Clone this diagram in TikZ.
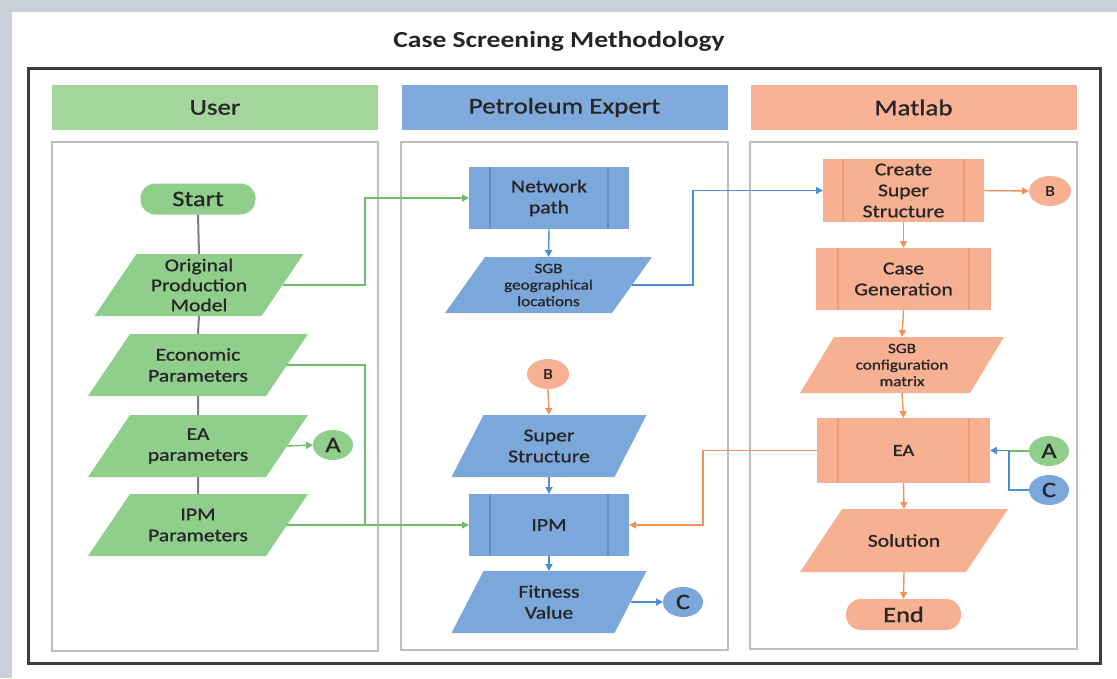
\documentclass[tikz,border=0pt]{standalone}
\usepackage{fontspec}
\setmainfont{Carlito}[FakeStretch=1.2, UprightFeatures={FakeBold=1}]
\usetikzlibrary{arrows.meta,calc,shapes.geometric,backgrounds}
\definecolor{bgband}{HTML}{C8D0D9}
\definecolor{gfill}{HTML}{8FCF8B}
\definecolor{ghead}{HTML}{A3D59C}
\definecolor{bfill}{HTML}{7BA7DA}
\definecolor{bhead}{HTML}{80AADC}
\definecolor{ofill}{HTML}{F7B092}
\definecolor{ohead}{HTML}{F9B394}
\definecolor{gline}{HTML}{6DC066}
\definecolor{bline}{HTML}{4B8FD6}
\definecolor{oline}{HTML}{F2925C}
\definecolor{txt}{HTML}{262626}
\definecolor{lanegray}{HTML}{BDBDBD}
\definecolor{outerc}{HTML}{3C3C3C}
\definecolor{grayline}{HTML}{7F7F7F}
\definecolor{binner}{HTML}{5C8FCC}
\definecolor{oinner}{HTML}{EE9B78}
\tikzset{
  txtbase/.style={align=center, text=txt, inner sep=0pt, outer sep=0pt},
  nfont/.style={font=\fontsize{18}{21}\selectfont},
  sfont/.style={font=\fontsize{14.3}{16.5}\selectfont},
  header/.style={txtbase, font=\fontsize{22.5}{26}\selectfont, minimum width=326pt, minimum height=45pt},
  procbox/.style={txtbase, nfont, rectangle, minimum height=62pt},
  paranode/.style={txtbase, nfont, rectangle, minimum height=62pt},
  termnode/.style={txtbase, font=\fontsize{22}{26}\selectfont, rectangle, rounded corners=15pt, minimum width=115pt, minimum height=31pt},
  conn/.style={txtbase, ellipse, minimum width=40pt, minimum height=30pt, font=\fontsize{22}{24}\selectfont},
  connsmall/.style={conn, minimum width=42pt, font=\fontsize{15}{17}\selectfont},
  lanebox/.style={draw=lanegray, line width=2pt},
  glink/.style={draw=gline, line width=1.4pt},
  blink/.style={draw=bline, line width=1.4pt},
  olink/.style={draw=oline, line width=1.4pt},
  graylink/.style={draw=grayline, line width=2pt},
  arr/.style={-{Triangle[length=7pt,width=7pt]}}
}
\begin{document}
\begin{tikzpicture}[x=1pt,y=-1pt]
\useasboundingbox (0,0) rectangle (1117,678);
\begin{scope}[on background layer]
  \fill[bgband] (0,0) rectangle (1117,678);
  \fill[white] (12,12) rectangle (1117,678);
\end{scope}

\node[txtbase, font=\bfseries\fontsize{23}{27}\selectfont] (title) at (559,41) {Case Screening Methodology};

\draw[draw=outerc, line width=3pt] (28,68) rectangle (1100,663);

% headers
\node[header, fill=ghead] (huser) at (215,107.5) {User};
\node[header, fill=bhead] (hpet) at (564.5,107.5) {Petroleum Expert};
\node[header, fill=ohead] (hmat) at (913.5,107.5) {Matlab};

% lanes
\draw[lanebox] (52,142) rectangle (378,651);
\draw[lanebox] (401,142) rectangle (728,650);
\draw[lanebox] (750,142) rectangle (1077,649);

% user lane
\node[termnode, fill=gfill] (start) at (198,199) {Start};
\node[paranode, minimum width=167pt, font=\fontsize{18}{20}\selectfont] (opm) at (199,285) {Original\\Production\\Model};
\node[paranode, minimum width=178pt] (econ) at (198,365) {Economic\\Parameters};
\node[paranode, minimum width=178pt] (eap) at (198,446) {EA\\parameters};
\node[paranode, minimum width=178pt] (ipmp) at (198,525) {IPM\\Parameters};
\node[conn, fill=gfill] (a1) at (333,445) {A};

% petroleum expert lane
\node[procbox, fill=bfill, minimum width=160pt] (netp) at (549,198) {Network\\path};
\node[paranode, sfont, minimum width=167pt, minimum height=56pt] (sgbg) at (548.5,285) {SGB\\geographical\\locations};
\node[connsmall, fill=ofill] (b2) at (548,374) {B};
\node[paranode, minimum width=163pt] (ss) at (549,446) {Super\\Structure};
\node[procbox, fill=bfill, minimum width=160pt] (ipm) at (549,525) {IPM};
\node[paranode, minimum width=163pt] (fit) at (549,602) {Fitness\\Value};
\node[conn, fill=bfill] (c2) at (683,602) {C};

% matlab lane
\node[procbox, fill=ofill, minimum width=161pt, minimum height=63pt] (cs) at (903.5,190.5) {Create\\Super\\Structure};
\node[connsmall, fill=ofill] (b3) at (1050,191) {B};
\node[procbox, fill=ofill, minimum width=175pt] (cg) at (903.5,279) {Case\\Generation};
\node[paranode, sfont, minimum width=170pt, minimum height=56pt] (sgbc) at (902,365) {SGB\\configuration\\matrix};
\node[procbox, fill=ofill, minimum width=173pt, minimum height=65pt, font=\fontsize{17}{20}\selectfont] (ea) at (903.5,450.5) {EA};
\node[conn, fill=gfill] (a3) at (1049,451) {A};
\node[conn, fill=bfill] (c3) at (1049,490) {C};
\node[paranode, minimum width=166pt, minimum height=63pt] (sol) at (904,540.5) {Solution};
\node[termnode, fill=ofill] (endn) at (903.5,614.5) {End};

% parallelogram bodies
\begin{scope}[on background layer]
\foreach \n/\s/\c in {opm/42/gfill, econ/42/gfill, eap/42/gfill, ipmp/42/gfill, sgbg/40/bfill, ss/32/bfill, fit/32/bfill, sgbc/34/ofill, sol/42/ofill}
  \fill[\c] ($(\n.south west)+(-\s/2,0)$) -- ($(\n.south east)+(-\s/2,0)$) -- ($(\n.north east)+(\s/2,0)$) -- ($(\n.north west)+(\s/2,0)$) -- cycle;
\end{scope}

% inner lines of predefined-process boxes
\foreach \n/\d/\c in {netp/21/binner, ipm/21/binner, cs/20/oinner, cg/22/oinner, ea/21/oinner}
  \draw[\c, line width=1.2pt] ($(\n.north west)+(\d,0)$) -- ($(\n.south west)+(\d,0)$)
                              ($(\n.north east)+(-\d,0)$) -- ($(\n.south east)+(-\d,0)$);

% junction coordinates
\coordinate (gx) at (365,0);
\coordinate (bx) at (693,0);
\coordinate (ox) at (703,0);
\coordinate (cx) at (1009,0);

% user lane connectors
\draw[graylink] (start.south) -- (opm.north) (opm.south) -- (econ.north) (econ.south) -- (eap.north) (eap.south) -- (ipmp.north);
\draw[glink, arr] (opm.east) -- (opm.east -| gx) |- (netp.west);
\draw[glink] (econ.east) -- (econ.east -| gx) -- (gx |- ipmp.east);
\draw[glink, arr] (ipmp.east) -- (ipm.west);
\draw[glink, arr] (eap.east) -- (a1.west);

% petroleum connectors
\draw[blink, arr] (netp.south) -- (sgbg.north);
\draw[blink, arr] (sgbg.east) -- (sgbg.east -| bx) |- (cs.west);
\draw[olink, arr] (b2.south) -- (ss.north);
\draw[blink, arr] (ss.south) -- (ipm.north);
\draw[blink, arr] (ipm.south) -- (fit.north);
\draw[blink, arr] (fit.east) -- (c2.west);

% matlab connectors
\draw[olink, arr] (cs.east) -- (b3.west);
\draw[olink, arr] (cs.south) -- (cg.north);
\draw[olink, arr] (cg.south) -- (sgbc.north);
\draw[olink, arr] (sgbc.south) -- (ea.north);
\draw[olink, arr] (ea.south) -- (sol.north);
\draw[olink, arr] (sol.south) -- (endn.north);
\draw[glink] (a3.west) -- (a3.west -| cx);
\draw[blink, arr] (c3.west) -- (c3.west -| cx) -- (cx |- ea.east) -- (ea.east);
\draw[olink, arr] (ea.west) -- (ea.west -| ox) |- (ipm.east);
\end{tikzpicture}
\end{document}
